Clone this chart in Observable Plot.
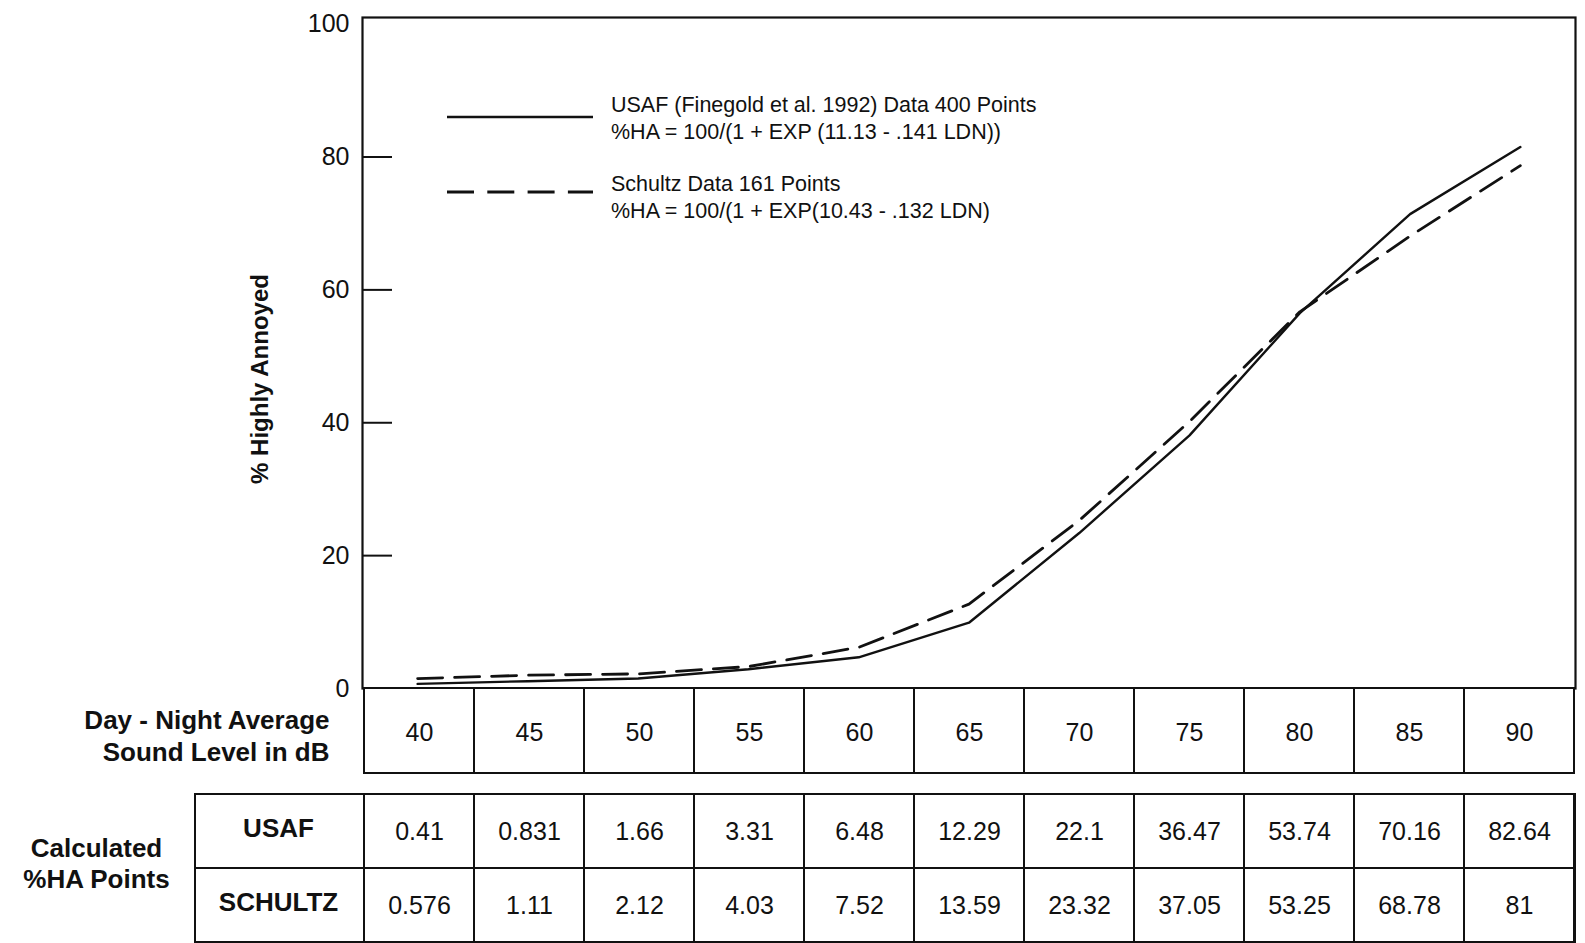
<!DOCTYPE html>
<html><head><meta charset="utf-8">
<script src="https://cdn.jsdelivr.net/npm/d3@7"></script>
<script src="https://cdn.jsdelivr.net/npm/@observablehq/plot@0.6"></script>
<style>
html,body{margin:0;padding:0;background:#fff;}
#root{position:relative;width:1585px;height:943px;overflow:hidden;font-family:"Liberation Sans",Arial,sans-serif;color:#111;}
#root .part{position:absolute;left:0;}
.leg{position:absolute;font-size:21.5px;line-height:27px;white-space:nowrap;color:#111;}
</style></head><body><div id="root"></div>
<script>
// ---- data ----
const levels = [40, 45, 50, 55, 60, 65, 70, 75, 80, 85, 90];
// curves as drawn in the figure
const usafCurve    = [0.7, 1.1, 1.5, 2.9, 4.7, 9.9, 23.4, 38.1, 56.5, 71.4, 81.5];
const schultzCurve = [1.5, 2.0, 2.2, 3.3, 6.2, 12.7, 25.3, 40.2, 56.7, 68.1, 78.7];
// calculated %HA table
const usafTable    = ["0.41", "0.831", "1.66", "3.31", "6.48", "12.29", "22.1", "36.47", "53.74", "70.16", "82.64"];
const schultzTable = ["0.576", "1.11", "2.12", "4.03", "7.52", "13.59", "23.32", "37.05", "53.25", "68.78", "81"];
const rowNames = ["USAF", "SCHULTZ"];
const yTicks = [0, 20, 40, 60, 80, 100];
const innerTicks = [20, 40, 60, 80];
const legendEntries = [
  {lines: ["USAF (Finegold et al. 1992) Data 400 Points", "%HA = 100/(1 + EXP (11.13 - .141 LDN))"], dash: null},
  {lines: ["Schultz Data 161 Points", "%HA = 100/(1 + EXP(10.43 - .132 LDN)"], dash: "27,13.3"}
];

// ---- layout ----
const W = 1585, L = 362, R = 10;
const ink = "#111";
const font = '"Liberation Sans", Arial, sans-serif';
const baseStyle = {fontFamily: font, fontSize: "25px", color: ink, background: "transparent", overflow: "visible"};
const root = document.getElementById("root");
function place(node, top) { const d = document.createElement("div"); d.className = "part"; d.style.top = top + "px"; d.appendChild(node); root.appendChild(d); }

const usafData = levels.map((l, i) => ({dB: l, v: usafCurve[i]}));
const schultzData = levels.map((l, i) => ({dB: l, v: schultzCurve[i]}));

// main chart
const chart = Plot.plot({
  width: W, height: 690, marginTop: 17, marginBottom: 2, marginLeft: L, marginRight: R,
  style: baseStyle,
  x: {domain: [37.5, 92.5], axis: null},
  y: {domain: [0, 101], ticks: yTicks, tickSize: 0, tickPadding: 13, label: null},
  marks: [
    Plot.frame({stroke: ink, strokeWidth: 2.2}),
    Plot.tickY(innerTicks, {y: d => d, stroke: ink, strokeWidth: 2, insetRight: W - L - R - 30}),
    Plot.line(usafData, {x: "dB", y: "v", stroke: ink, strokeWidth: 2.4}),
    Plot.line(schultzData, {x: "dB", y: "v", stroke: ink, strokeWidth: 2.8, strokeDasharray: "25,12"}),
    Plot.text(["% Highly Annoyed"], {frameAnchor: "left", textAnchor: "middle", dx: -102, dy: 26, rotate: -90, fontWeight: "bold", fontSize: 24, fill: ink})
  ]
});
place(chart, 0);

// dB row
const rowB = Plot.plot({
  width: W, height: 88, marginTop: 1, marginBottom: 2, marginLeft: L, marginRight: R,
  style: baseStyle,
  x: {type: "band", domain: levels, padding: 0, axis: null},
  marks: [
    Plot.cell(levels, {x: d => d, fill: "white", stroke: ink, strokeWidth: 2}),
    Plot.text(levels, {x: d => d, frameAnchor: "middle", text: d => String(d), fontSize: 25, dy: 2, fill: ink}),
    Plot.text(["Day - Night Average\nSound Level in dB"], {frameAnchor: "left", textAnchor: "end", dx: -33, dy: 4, fontWeight: "bold", fontSize: 26, lineHeight: 1.23, fill: ink})
  ]
});
place(rowB, 687);

// calculated table
const tableData = [];
levels.forEach((l, i) => {
  tableData.push({dB: l, row: "USAF", label: usafTable[i]});
  tableData.push({dB: l, row: "SCHULTZ", label: schultzTable[i]});
});
const table = Plot.plot({
  width: W, height: 151, marginTop: 1, marginBottom: 1, marginLeft: L, marginRight: R,
  style: baseStyle,
  x: {type: "band", domain: levels, padding: 0, axis: null},
  y: {type: "band", domain: rowNames, padding: 0, axis: null},
  marks: [
    Plot.cell(rowNames, {y: d => d, fill: "white", stroke: ink, strokeWidth: 2, insetLeft: -167}),
    Plot.cell(tableData, {x: "dB", y: "row", fill: "none", stroke: ink, strokeWidth: 2}),
    Plot.text(tableData, {x: "dB", y: "row", text: "label", fontSize: 25, fill: ink}),
    Plot.text(rowNames, {y: d => d, frameAnchor: "left", textAnchor: "middle", dx: -84, dy: -3, text: d => d, fontWeight: "bold", fontSize: 26, fill: ink}),
    Plot.text(["Calculated\n%HA Points"], {frameAnchor: "left", textAnchor: "middle", dx: -266, dy: -5, fontWeight: "bold", fontSize: 26, lineHeight: 1.19, fill: ink})
  ]
});
place(table, 792);

// legend
const legTop = [92, 171];
const keyY = [117, 192];
const ns = "http://www.w3.org/2000/svg";
const keySvg = document.createElementNS(ns, "svg");
keySvg.setAttribute("width", W); keySvg.setAttribute("height", 250);
keySvg.style.position = "absolute"; keySvg.style.left = "0px"; keySvg.style.top = "0px";
legendEntries.forEach((e, i) => {
  const ln = document.createElementNS(ns, "line");
  ln.setAttribute("x1", 447); ln.setAttribute("x2", 593);
  ln.setAttribute("y1", keyY[i]); ln.setAttribute("y2", keyY[i]);
  ln.setAttribute("stroke", ink); ln.setAttribute("stroke-width", e.dash ? 2.8 : 2.4);
  if (e.dash) ln.setAttribute("stroke-dasharray", e.dash);
  keySvg.appendChild(ln);
  const t = document.createElement("div");
  t.className = "leg"; t.style.left = "611px"; t.style.top = legTop[i] + "px";
  t.innerHTML = e.lines.join("<br>");
  root.appendChild(t);
});
root.appendChild(keySvg);
</script>
</body></html>
